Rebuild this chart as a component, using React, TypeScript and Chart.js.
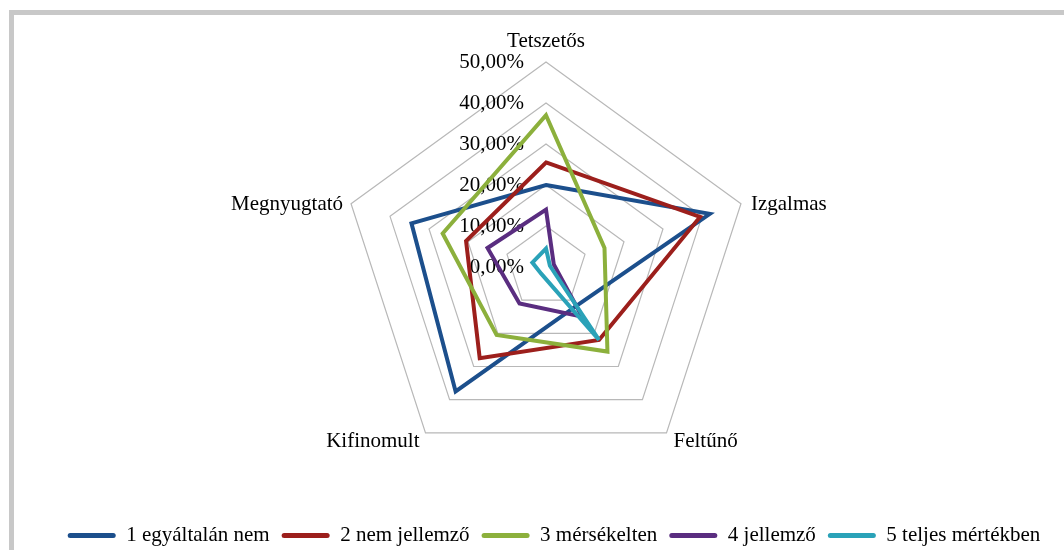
import React, { useEffect, useRef } from 'react';
import { Chart, registerables } from 'chart.js';

Chart.register(...registerables);

const categories = ['Tetszetős', 'Izgalmas', 'Feltűnő', 'Kifinomult', 'Megnyugtató'];
const seriesNames = ['1 egyáltalán nem', '2 nem jellemző', '3 mérsékelten', '4 jellemző', '5 teljes mértékben'];
const egyaltalanNem = [20, 42, 12, 37.5, 34.5];
const nemJellemzo = [25.5, 39.5, 22, 27.5, 20.5];
const merseklten = [37, 15, 25.5, 20.5, 26.5];
const jellemzo = [14, 2, 15, 11, 15];
const teljesMertekben = [4.5, 1, 22, 2, 3.5];
const tickValues = [0, 10, 20, 30, 40, 50];

const seriesValues = [egyaltalanNem, nemJellemzo, merseklten, jellemzo, teljesMertekben];
const seriesColors = ['#1c4f8c', '#9c1f1c', '#8cb03c', '#5a2d80', '#2aa2b8'];

const FONT = '"Liberation Serif", "Times New Roman", serif';
const fmt = (v: number) => v.toFixed(2).replace('.', ',') + '%';

export default function App() {
  const ref = useRef<HTMLCanvasElement>(null);

  useEffect(() => {
    if (!ref.current) return;
    const textPlugin = {
      id: 'radarText',
      beforeDatasetsDraw(chart: any) {
        const s = chart.scales.r;
        const ctx = chart.ctx;
        ctx.save();
        ctx.font = `21px ${FONT}`;
        ctx.fillStyle = '#000';
        ctx.textAlign = 'right';
        ctx.textBaseline = 'alphabetic';
        tickValues.forEach((v) => {
          const d = s.getDistanceFromCenterForValue(v);
          ctx.fillText(fmt(v), s.xCenter - 22, s.yCenter - d + 6);
        });
        categories.forEach((c, i) => {
          const p = s.getPointPosition(i, s.drawingArea);
          let align: CanvasTextAlign = 'center';
          let dx = 0;
          let dy = -15;
          if (Math.abs(p.x - s.xCenter) > 2) {
            const right = p.x > s.xCenter;
            align = right ? 'left' : 'right';
            if (p.y < s.yCenter) {
              dx = right ? 10 : -8;
              dy = 6;
            } else {
              dx = right ? 7 : -6;
              dy = 14;
            }
          }
          ctx.textAlign = align;
          ctx.fillText(c, p.x + dx, p.y + dy);
        });
        ctx.restore();
      },
    };

    const chart = new Chart(ref.current, {
      type: 'radar',
      data: {
        labels: categories,
        datasets: seriesNames.map((name, i) => ({
          label: name,
          data: seriesValues[i],
          borderColor: seriesColors[i],
          backgroundColor: seriesColors[i],
          borderWidth: 4,
          pointRadius: 0,
          pointHoverRadius: 0,
          fill: false,
          order: seriesNames.length - i,
        })),
      },
      options: {
        responsive: false,
        animation: false,
        layout: { padding: { left: 44, right: 0, top: 0, bottom: -6 } },
        plugins: {
          tooltip: { enabled: false },
          legend: {
            position: 'bottom',
            labels: {
              boxWidth: 48,
              boxHeight: 5,
              padding: 12,
              color: '#000',
              useBorderRadius: true,
              borderRadius: 2.5,
              font: { family: FONT, size: 21 },
              sort: (a: any, b: any) => a.datasetIndex - b.datasetIndex,
              generateLabels: (chart: any) =>
                Chart.defaults.plugins.legend.labels
                  .generateLabels(chart)
                  .map((it: any) => ({ ...it, lineWidth: 0 })),
            },
          },
        },
        scales: {
          r: {
            min: 0,
            max: 50,
            ticks: { display: false, stepSize: 10 },
            pointLabels: { display: false },
            angleLines: { display: false },
            grid: { color: '#b8b8b8', lineWidth: 1.2 },
            afterFit: (s: any) => {
              s.xCenter = 546;
              s.yCenter = 267;
              s.drawingArea = 205;
            },
          },
        },
      },
      plugins: [textPlugin],
    } as any);
    return () => chart.destroy();
  }, []);

  return (
    <div style={{ position: 'fixed', left: 0, top: 0, width: 1064, height: 550, overflow: 'hidden', background: '#fff' }}>
      <div
        style={{
          position: 'absolute',
          left: 9,
          top: 10,
          width: 1100,
          height: 600,
          borderLeft: '5px solid #c8c8c8',
          borderTop: '5px solid #c8c8c8',
        }}
      />
      <canvas ref={ref} width={1064} height={550} style={{ position: 'absolute', left: 0, top: 0 }} />
    </div>
  );
}
